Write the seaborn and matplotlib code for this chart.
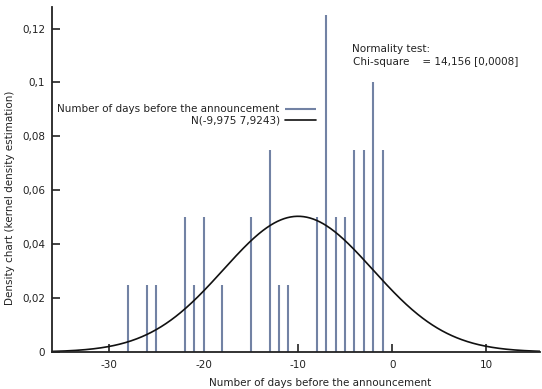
import numpy as np
import pandas as pd
import matplotlib
matplotlib.use("Agg")
import matplotlib.pyplot as plt
import seaborn as sns

# Data
days = [-28, -26, -25, -22, -21, -20, -18, -15, -13, -12, -11, -8, -7, -6, -5, -4, -3, -2, -1]
density = [0.025, 0.025, 0.025, 0.05, 0.025, 0.05, 0.025, 0.05, 0.075, 0.025, 0.025,
           0.05, 0.125, 0.05, 0.05, 0.075, 0.075, 0.1, 0.075]
mu = -9.975
sigma = 7.9243
x_ticks = [-30, -20, -10, 0, 10]
x_tick_labels = ["-30", "-20", "-10", "0", "10"]
y_ticks = [0, 0.02, 0.04, 0.06, 0.08, 0.1, 0.12]
y_tick_labels = ["0", "0,02", "0,04", "0,06", "0,08", "0,1", "0,12"]

sns.set_style("white")
plt.rcParams['font.family'] = ['DejaVu Sans']
plt.rcParams['xtick.bottom'] = True
plt.rcParams['ytick.left'] = True
plt.rcParams['xtick.direction'] = 'in'
plt.rcParams['ytick.direction'] = 'in'
plt.rcParams['xtick.major.size'] = 6
plt.rcParams['ytick.major.size'] = 6
plt.rcParams['xtick.major.width'] = 1.2
plt.rcParams['ytick.major.width'] = 1.2

fig = plt.figure(figsize=(5.42, 3.89), dpi=100)
ax = fig.add_axes([0.0959, 0.0951, 0.900, 0.887])

xlim = (-36.07, 15.65)
grid = np.linspace(xlim[0], xlim[1], 600)
curve = pd.DataFrame({"x": grid,
                      "y": np.exp(-0.5 * ((grid - mu) / sigma) ** 2) / (sigma * np.sqrt(2 * np.pi))})

bar_color = "#7282a4"
ax.vlines(days, 0, density, color=bar_color, linewidth=1.5,
          label="Number of days before the announcement")
sns.lineplot(data=curve, x="x", y="y", ax=ax, color="#111111", linewidth=1.2,
             label="N(-9,975 7,9243)")

ax.set_xlim(*xlim)
ax.set_ylim(0, 0.128)
ax.set_xticks(x_ticks)
ax.set_xticklabels(x_tick_labels)
ax.set_yticks(y_ticks)
ax.set_yticklabels(y_tick_labels)
ax.tick_params(axis="both", which="major", direction="in", length=6, width=1.2,
               labelsize=7.5, color="#222222", labelcolor="#222222", pad=5,
               bottom=True, left=True, top=False, right=False)
ax.tick_params(axis="x", pad=6)

for s in ["top", "right"]:
    ax.spines[s].set_visible(False)
for s in ["left", "bottom"]:
    ax.spines[s].set_color("#222222")
    ax.spines[s].set_linewidth(1.3)

ax.set_xlabel("Number of days before the announcement", fontsize=7.5, color="#222222")
ax.set_ylabel("Density chart (kernel density estimation)", fontsize=7.5, color="#222222")
ax.xaxis.set_label_coords(0.549, -0.075)
ax.yaxis.set_label_coords(-0.076, 0.446)

leg = ax.legend(loc="upper right", bbox_to_anchor=(0.549, 0.73), frameon=False,
                markerfirst=False, fontsize=7.5, handlelength=2.9,
                handletextpad=0.55, labelspacing=0.12, borderaxespad=0)
for t in leg.get_texts():
    t.set_ha("right")
    t.set_color("#222222")

ax.text(0.615, 0.877, "Normality test:", transform=ax.transAxes, fontsize=7.5,
        color="#222222", va="center")
ax.text(0.617, 0.84, "Chi-square    = 14,156 [0,0008]", transform=ax.transAxes,
        fontsize=7.5, color="#222222", va="center")

fig.savefig("out.png", dpi=100)
